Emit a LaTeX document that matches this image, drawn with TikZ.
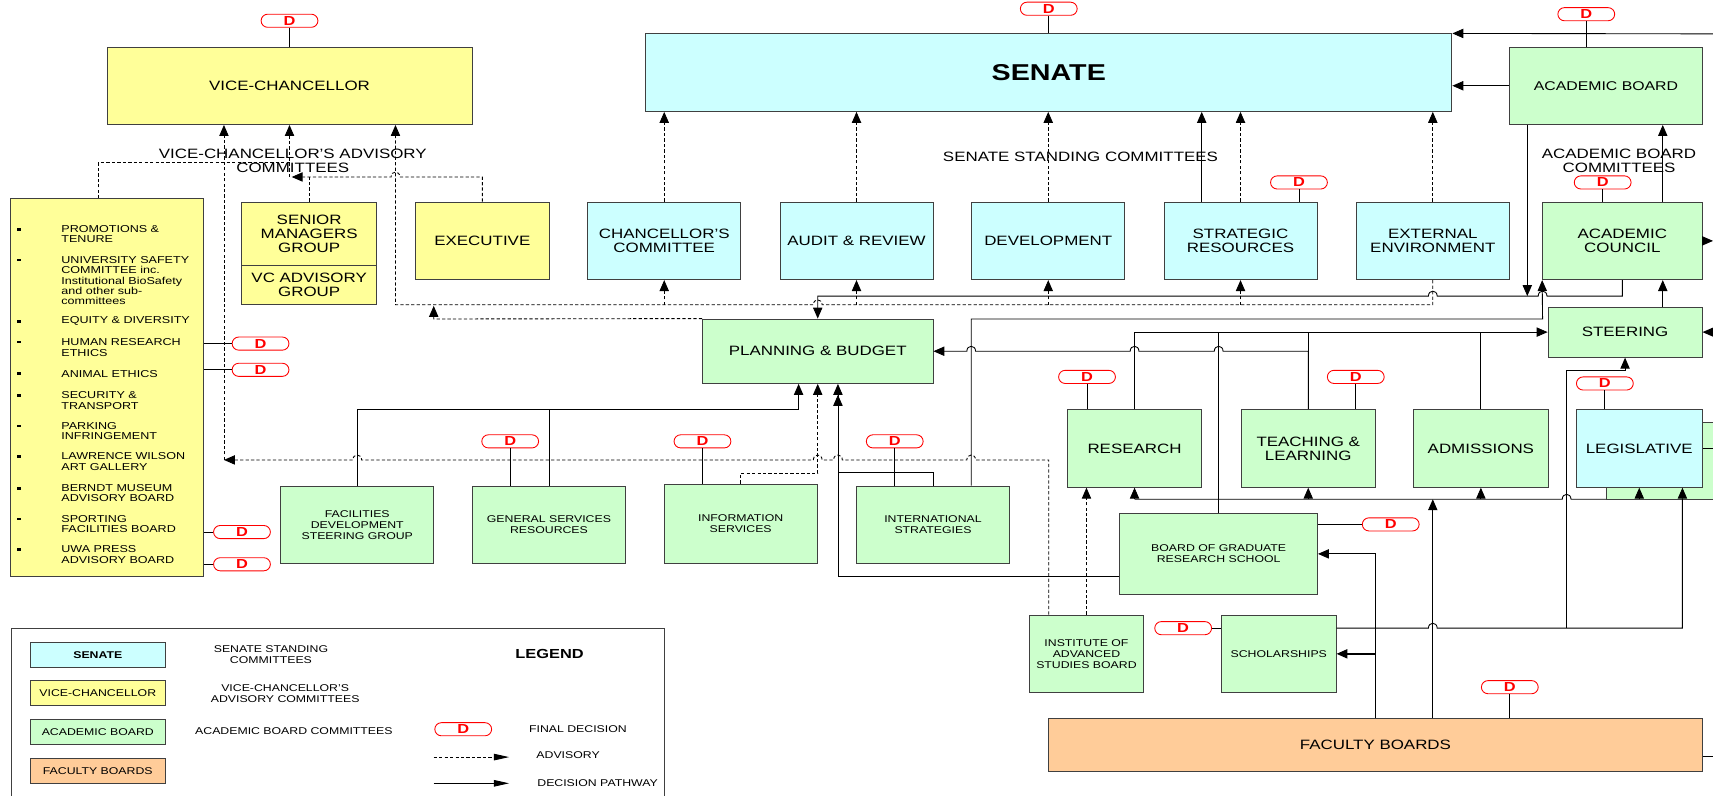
\documentclass[tikz,border=0pt]{standalone}
\usepackage{fontspec}
\setmainfont{Liberation Sans}[FakeStretch=1.25]
\usetikzlibrary{arrows.meta}
\definecolor{vcy}{HTML}{FFFF99}
\definecolor{sen}{HTML}{CCFFFF}
\definecolor{acb}{HTML}{CCFFCC}
\definecolor{fac}{HTML}{FFCC99}
\newcommand\fmain{\fontsize{12.4}{13}\selectfont}
\newcommand\fsmall{\fontsize{9}{10}\selectfont}
\newcommand\flist{\fontsize{9.2}{9.5}\selectfont}
\newcommand\fleg{\fontsize{9}{10}\selectfont}
\newcommand\fdee{\fontsize{12}{12}\selectfont\bfseries}
\begin{document}
\begin{tikzpicture}[x=1pt,y=-1pt,
  boxbase/.style={draw=black!75, line width=0.8pt, align=center, inner sep=1pt, font=\fmain},
  yb/.style={boxbase, fill=vcy},
  cb/.style={boxbase, fill=sen},
  gb/.style={boxbase, fill=acb},
  ob/.style={boxbase, fill=fac},
  sq/.style={minimum width=140pt, minimum height=71pt},
  sm/.style={font=\fsmall},
  dpill/.style={draw=red, line width=0.8pt, fill=white, rounded corners=6pt,
    minimum width=52pt, minimum height=12pt, inner sep=0pt, text=red, font=\fdee},
  adv/.style={line width=0.8pt, dash pattern=on 3pt off 2pt},
  dec/.style={line width=0.8pt},
  arr/.style={-{Triangle[length=10pt,width=8.5pt]}},
  lnk/.style={line width=0.8pt},
  litem/.style={font=\flist, align=left, anchor=west, inner sep=0pt},
  ttl/.style={font=\fmain, align=center},
  lgt/.style={font=\fleg, align=center},
]
\useasboundingbox (0,0) rectangle (1568,728);
\clip (0,0) rectangle (1568,728);

% ---------- Vice-Chancellor and advisory committees ----------
\node[yb, minimum width=334pt, minimum height=71pt] (vc) at (265,78.5) {VICE-CHANCELLOR};
\node[dpill] (dvc) at (265,19) {D};
\node[yb, minimum width=176pt, minimum height=346pt] (vcl) at (98,355) {};
\node[yb, minimum width=124pt, minimum height=58pt] (smg) at (283,214) {SENIOR\\MANAGERS\\GROUP};
\node[yb, minimum width=124pt, minimum height=36pt] (vcag) at (283,261) {VC ADVISORY\\GROUP};
\node[yb, minimum width=123pt, minimum height=71pt] (exe) at (441.5,220.5) {EXECUTIVE};

\node[litem] (l1) at (56,214.5) {PROMOTIONS \&\\TENURE};
\node[litem] (l2) at (56,257) {UNIVERSITY SAFETY\\COMMITTEE inc.\\Institutional BioSafety\\and other sub-\\committees};
\node[litem] (l3) at (56,294) {EQUITY \& DIVERSITY};
\node[litem] (l4) at (56,318) {HUMAN RESEARCH\\ETHICS};
\node[litem] (l5) at (56,342) {ANIMAL ETHICS};
\node[litem] (l6) at (56,366.5) {SECURITY \&\\TRANSPORT};
\node[litem] (l7) at (56,394.5) {PARKING\\INFRINGEMENT};
\node[litem] (l8) at (56,422.5) {LAWRENCE WILSON\\ART GALLERY};
\node[litem] (l9) at (56,451.5) {BERNDT MUSEUM\\ADVISORY BOARD};
\node[litem] (l10) at (56,479.5) {SPORTING\\FACILITIES BOARD};
\node[litem] (l11) at (56,507.5) {UWA PRESS\\ADVISORY BOARD};
\foreach \y in {210,238,294,313,342,362,390,418,447,475,503}
  \fill (15.5,\y-1.3) rectangle (19,\y+1.3);

\node[dpill] (dhre) at (238.5,314.5) {D};
\node[dpill] (dae) at (238.5,338.5) {D};
\node[dpill] (dspo) at (221.5,487) {D};
\node[dpill] (duwa) at (221.5,516.5) {D};

\node[ttl] (vcadv) at (268,147) {VICE-CHANCELLOR'S ADVISORY\\COMMITTEES};

% ---------- Senate and standing committees ----------
\node[cb, minimum width=738pt, minimum height=71pt, font=\fontsize{21}{23}\selectfont\bfseries] (sen) at (960,66.5) {SENATE};
\node[dpill] (dsen) at (960,8) {D};
\node[cb, sq] (chc) at (608,220.5) {CHANCELLOR'S\\COMMITTEE};
\node[cb, sq] (aud) at (784,220.5) {AUDIT \& REVIEW};
\node[cb, sq] (dev) at (959.5,220.5) {DEVELOPMENT};
\node[cb, sq] (str) at (1135.5,220.5) {STRATEGIC\\RESOURCES};
\node[cb, sq] (ext) at (1311.5,220.5) {EXTERNAL\\ENVIRONMENT};
\node[dpill] (dstr) at (1189,167) {D};
\node[ttl] (ssc) at (989,144) {SENATE STANDING COMMITTEES};

% ---------- Academic Board and committees ----------
\node[gb, minimum width=176pt, minimum height=71pt, font=\fontsize{11.6}{12}\selectfont] (ab) at (1470,78.5) {ACADEMIC BOARD};
\node[dpill] (dab) at (1452,13) {D};
\node[ttl] (abc) at (1482,147) {ACADEMIC BOARD\\COMMITTEES};
\node[gb, minimum width=146pt, minimum height=71pt] (acou) at (1485,220.5) {ACADEMIC\\COUNCIL};
\node[dpill] (dacou) at (1467,167) {D};
\node[gb, minimum width=141pt, minimum height=46pt] (ste) at (1487.5,304) {STEERING};
\node[gb, minimum width=211pt, minimum height=59pt] (pb) at (748.5,321.5) {PLANNING \& BUDGET};

\node[gb, minimum width=123pt, minimum height=71pt] (res) at (1038.5,410.5) {RESEARCH};
\node[dpill] (dres) at (995,345) {D};
\node[gb, minimum width=123pt, minimum height=71pt] (tl) at (1197.5,410.5) {TEACHING \&\\LEARNING};
\node[dpill] (dtl) at (1241,345) {D};
\node[gb, minimum width=123pt, minimum height=71pt] (adm) at (1355.5,410.5) {ADMISSIONS};
\node[gb, minimum width=130pt, minimum height=70pt] (lgb) at (1535,422) {};
\node[cb, minimum width=115pt, minimum height=71pt] (leg) at (1500.5,410.5) {LEGISLATIVE};
\node[dpill] (dleg) at (1469,351) {D};

\node[gb, sq, sm] (fds) at (327,480.5) {FACILITIES\\DEVELOPMENT\\STEERING GROUP};
\node[gb, sq, sm] (gsr) at (502.5,480.5) {GENERAL SERVICES\\RESOURCES};
\node[dpill] (dgsr) at (467,404) {D};
\node[gb, sm, minimum width=140pt, minimum height=73pt] (ins) at (678,479.5) {INFORMATION\\SERVICES};
\node[dpill] (dins) at (643,404) {D};
\node[gb, sq, sm] (ints) at (854,480.5) {INTERNATIONAL\\STRATEGIES};
\node[dpill] (dints) at (819,404) {D};

\node[gb, sm, minimum width=181pt, minimum height=74pt] (bgrs) at (1115.5,507) {BOARD OF GRADUATE\\RESEARCH SCHOOL};
\node[dpill] (dbgrs) at (1273,480) {D};
\node[gb, sm, minimum width=105pt, minimum height=71pt] (iasb) at (994.5,598.5) {INSTITUTE OF\\ADVANCED\\STUDIES BOARD};
\node[gb, sm, minimum width=105pt, minimum height=71pt] (sch) at (1170.5,598.5) {SCHOLARSHIPS};
\node[dpill] (dsch) at (1083,575) {D};
\node[ob, minimum width=598pt, minimum height=48pt] (fb) at (1259,682) {FACULTY BOARDS};
\node[dpill] (dfb) at (1382,629) {D};

% ---------- helper coordinates ----------
\coordinate (h279) at (0,279);
\coordinate (h271) at (0,271);
\coordinate (h457) at (0,457);
\coordinate (vcj) at (265,162);
\coordinate (vcw) at (205,421);
\coordinate (topin) at (1568,31);
\coordinate (acout) at (1568,220.5);
\coordinate (stein) at (1568,304);
\coordinate (fbout) at (1568,692);
\coordinate (legout) at (1568,410.5);
\coordinate (sj) at (1434,575);

% ---------- decision-flag ties ----------
\draw[lnk] (dvc.south) -- (vc.north);
\draw[lnk] (dsen.south) -- (sen.north);
\draw[lnk] (dab.south) -- (dab.south |- ab.north);
\draw[lnk] (dstr.south) -- (dstr.south |- str.north);
\draw[lnk] (dacou.south) -- (dacou.south |- acou.north);
\draw[lnk] (dres.south) -- (dres.south |- res.north);
\draw[lnk] (dtl.south) -- (dtl.south |- tl.north);
\draw[lnk] (dleg.south) -- (dleg.south |- leg.north);
\draw[lnk] (dgsr.south) -- (dgsr.south |- gsr.north);
\draw[lnk] (dins.south) -- (dins.south |- ins.north);
\draw[lnk] (dints.south) -- (dints.south |- ints.north);
\draw[lnk] (dfb.south) -- (dfb.south |- fb.north);
\draw[lnk] (dbgrs.west) -- (bgrs.east |- dbgrs.west);
\draw[lnk] (dsch.east) -- (sch.west |- dsch.east);
\draw[lnk] (dhre.west) -- (dhre.west -| vcl.east);
\draw[lnk] (dae.west) -- (dae.west -| vcl.east);
\draw[lnk] (dspo.west) -- (dspo.west -| vcl.east);
\draw[lnk] (duwa.west) -- (duwa.west -| vcl.east);

% ---------- advisory paths to the Vice-Chancellor ----------
\draw[adv] ([xshift=-8pt]vcl.north) |- (265,149);
\draw[adv] (smg.north) -- (283,162);
\draw[adv,arr] (exe.north) -- (441.5,162) -- (366,162)
  .. controls (366,156) and (358,156) .. (358,162) -- (267,162);
\draw[adv,arr] (vcj) -- (vc.south);
\draw[adv,arr] (ext.south) -- (1311.5,279) -- (752.5,279)
  .. controls (752.5,273) and (744.5,273) .. (744.5,279) -- (362,279) -- ([xshift=97pt]vc.south);
\draw[adv,arr] (pb.north west) -- (397,292) -- (397,280);
\draw[adv,arr] ([xshift=-34.5pt]iasb.north) -- (960,421) -- (893,421)
  .. controls (893,415) and (885,415) .. (885,421) -- (771,421)
  .. controls (771,415) and (763,415) .. (763,421) -- (752.5,421)
  .. controls (752.5,415) and (744.5,415) .. (744.5,421) -- (331,421)
  .. controls (331,415) and (323,415) .. (323,421) -- (vcw);
\draw[adv,arr] (vcw) -- ([xshift=-60pt]vc.south);

% ---------- standing committees ----------
\draw[adv,arr] (chc.south |- h279) -- (chc.south);
\draw[adv,arr] (aud.south |- h279) -- (aud.south);
\draw[adv,arr] (dev.south |- h279) -- (dev.south);
\draw[adv,arr] (str.south |- h279) -- (str.south);
\draw[adv,arr] (chc.north) -- (chc.north |- sen.south);
\draw[adv,arr] (aud.north) -- (aud.north |- sen.south);
\draw[adv,arr] (dev.north) -- (dev.north |- sen.south);
\draw[dec,arr] ([xshift=-35.5pt]str.north) -- ([xshift=-35.5pt]str.north |- sen.south);
\draw[adv,arr] (str.north) -- (str.north |- sen.south);
\draw[adv,arr] (ext.north) -- (ext.north |- sen.south);
\draw[dec,arr] (ab.west) -- (ab.west -| sen.east);
\draw[dec,arr] (topin) -- (sen.north east);

% ---------- academic decision pathways ----------
\draw[dec,arr] ([xshift=37pt]acou.north) -- ([xshift=37pt]acou.north |- ab.south);
\draw[dec,arr] (acou.east) -- (acout);
\draw[dec,arr] ([xshift=34.5pt]ste.north) -- ([xshift=34.5pt]ste.north |- acou.south);
\draw[dec,arr] (stein) -- (ste.east);
\draw[dec,arr] ([xshift=-72pt]ab.south) -- ([xshift=-72pt]ab.south |- h271);
\draw[dec,arr] (acou.south) -- (1485,271) -- (1416,271)
  .. controls (1416,265) and (1408,265) .. (1408,271) -- (1315.5,271)
  .. controls (1315.5,265) and (1307.5,265) .. (1307.5,271) -- (748.5,271) -- (pb.north);
\draw[dec,arr] ([xshift=35pt]ints.north) -- (889,292) -- (1412,292) -- (acou.south west);
\draw[dec,arr] (tl.north) -- (1197.5,321.5) -- (1119.5,321.5)
  .. controls (1119.5,315.5) and (1111.5,315.5) .. (1111.5,321.5) -- (1042.5,321.5)
  .. controls (1042.5,315.5) and (1034.5,315.5) .. (1034.5,321.5) -- (893,321.5)
  .. controls (893,315.5) and (885,315.5) .. (885,321.5) -- (pb.east);
\draw[dec,arr] (res.north) -- (1038.5,304) -- (ste.west);
\draw[dec, line width=1.2pt] (bgrs.north) -- (1115.5,304);
\draw[dec] (tl.north) -- (1197.5,304);
\draw[dec] (adm.north) -- (1355.5,304);

% ---------- faculty boards ----------
\draw[dec,arr] ([xshift=52.5pt]fb.north) -- (1311.5,457);
\draw[dec] (res.south |- h457) -- (1430,457)
  .. controls (1430,451) and (1438,451) .. (1438,457) -- (1470,457);
\draw[dec,arr] (res.south |- h457) -- (res.south);
\draw[dec,arr] (tl.south |- h457) -- (tl.south);
\draw[dec,arr] (adm.south |- h457) -- (adm.south);
\draw[dec,arr] (leg.south |- h457) -- (leg.south);
\draw[dec,arr, line width=1.2pt] (fb.north) |- (sch.east);
\draw[dec,arr] (fb.north) |- (bgrs.east);
\draw[dec,arr] ([yshift=23.5pt]sch.east) -- (1307.5,575)
  .. controls (1307.5,569) and (1315.5,569) .. (1315.5,575) -- (1540,575) -- ([xshift=39.5pt]leg.south);
\draw[dec,arr] (sj) -- (1434,339) -- (1487.5,339) -- (ste.south);
\draw[lnk] (fb.east |- fbout) -- (fbout);
\draw[lnk] (leg.east) -- (legout);

% ---------- planning and budget feeds ----------
\draw[dec,-{Triangle[length=10pt,width=8.5pt]Triangle[length=10pt,width=8.5pt]}]
  ([yshift=-21pt]bgrs.west) -- (767,528) -- ([xshift=18.5pt]pb.south);
\draw[dec] (ints.north) -- (854,432) -- (767,432);
\draw[dec,arr] (fds.north) -- (327,375) -- (731,375) -- ([xshift=-17.5pt]pb.south);
\draw[dec] (gsr.north) -- (502.5,375);
\draw[adv,arr] (ins.north) -- (678,433) -- (748.5,433) -- (pb.south);
\draw[adv,arr] (iasb.north) -- (iasb.north |- res.south);

% ---------- legend ----------
\node[draw=black!75, line width=0.8pt, minimum width=598pt, minimum height=190pt, anchor=north west, inner sep=0pt] (legbox) at (10,575) {};
\node[cb, font=\fleg\bfseries, minimum width=123pt, minimum height=23pt] (ls) at (89.5,599.5) {SENATE};
\node[yb, font=\fleg, minimum width=123pt, minimum height=23pt] (lv) at (89.5,634.5) {VICE-CHANCELLOR};
\node[gb, font=\fleg, minimum width=123pt, minimum height=23pt] (la) at (89.5,670) {ACADEMIC BOARD};
\node[ob, font=\fleg, minimum width=123pt, minimum height=23pt] (lf) at (89.5,705.5) {FACULTY BOARDS};
\node[lgt] (lst) at (248,599) {SENATE STANDING\\COMMITTEES};
\node[lgt] (lvt) at (261,635) {VICE-CHANCELLOR'S\\ADVISORY COMMITTEES};
\node[lgt] (lat) at (269,669.5) {ACADEMIC BOARD COMMITTEES};
\node[font=\fontsize{12}{14}\selectfont\bfseries] (lgtitle) at (503,599) {LEGEND};
\node[dpill] (ld) at (424,667.5) {D};
\node[lgt] (lfd) at (529,667) {FINAL DECISION};
\coordinate (la1) at (397,693);
\coordinate (la2) at (466,693);
\draw[adv,-{Triangle[length=14pt,width=6pt]}] (la1) -- (la2);
\node[lgt] (ladv) at (520,691) {ADVISORY};
\coordinate (lb1) at (397,717);
\coordinate (lb2) at (466,717);
\draw[dec,-{Triangle[length=14pt,width=6pt]}] (lb1) -- (lb2);
\node[lgt] (ldp) at (547,717) {DECISION PATHWAY};
\end{tikzpicture}
\end{document}
